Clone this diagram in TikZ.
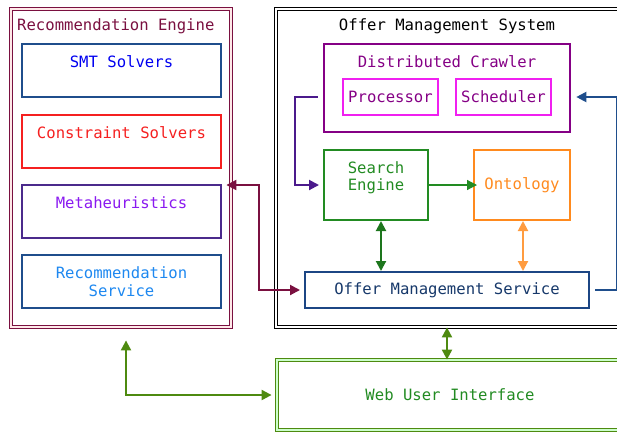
\documentclass[tikz,border=0pt]{standalone}
\usepackage{fontspec}
\setmonofont{DejaVu Sans Mono}
\usepackage{xcolor}
\usepackage{tikz}
\usetikzlibrary{arrows.meta, positioning, calc}
\definecolor{remaroon}{HTML}{7A1040}
\definecolor{smtblue}{HTML}{0000F0}
\definecolor{boxnavy}{HTML}{1F4E8C}
\definecolor{cstred}{HTML}{F52020}
\definecolor{metaind}{HTML}{4B2A8C}
\definecolor{metavio}{HTML}{8A1AF0}
\definecolor{recsky}{HTML}{1E88F0}
\definecolor{crawlpur}{HTML}{850085}
\definecolor{procmag}{HTML}{F020F0}
\definecolor{searchgr}{HTML}{228B22}
\definecolor{ontoor}{HTML}{FF8A1E}
\definecolor{omsnavy}{HTML}{1C4684}
\definecolor{webgr}{HTML}{4E8A10}
\definecolor{crawlarr}{HTML}{4B1A8C}

\begin{document}
\begin{tikzpicture}[
  x=1pt, y=-1pt,
  every node/.style={font=\ttfamily\fontsize{15.6}{17.5}\selectfont},
  blk/.style ={draw, rectangle, line width=1.2pt, align=center, inner sep=0pt},
  sysbox/.style={draw, rectangle, line width=0.8pt, double distance=1.6pt},
  tit/.style={inner sep=0pt},
  arr/.style={{Triangle[length=10pt,width=10pt]}-{Triangle[length=10pt,width=10pt]}, line width=2pt},
  onearr/.style={-{Triangle[length=10pt,width=10pt]}, line width=2pt}
]
\useasboundingbox (0,0) rectangle (617,432);

%% ─── Recommendation Engine ─────────────────────────────────────────────────
\node[sysbox, draw=remaroon, double=pink!35, minimum width=220pt, minimum height=318pt]
      (recsys) at (121,168) {};
\node[tit, anchor=west, text=remaroon] (rec_t) at (17,26) {Recommendation Engine};

\node[blk, draw=boxnavy,  text=smtblue, minimum width=199pt, minimum height=53pt]
      (smt)  at (121.5, 70.5) {SMT Solvers\\~};
\node[blk, draw=cstred,   text=cstred,  minimum width=199pt, minimum height=53pt]
      (cst)  at (121.5,141.5) {Constraint Solvers\\~};
\node[blk, draw=metaind,  text=metavio, minimum width=199pt, minimum height=53pt]
      (meta) at (121.5,211.5) {Metaheuristics\\~};
\node[blk, draw=boxnavy,  text=recsky,  minimum width=199pt, minimum height=53pt]
      (recsv) at (121.5,281.5) {Recommendation\\Service};

%% ─── Offer Management System ───────────────────────────────────────────────
\node[sysbox, draw=black, double=white, minimum width=354pt, minimum height=318pt]
      (omsys) at (453,168) {};
\node[tit] (oms_t) at (447,26) {Offer Management System};

\node[blk, draw=crawlpur, line width=2.6pt, minimum width=246pt, minimum height=88pt]
      (crawler) at (447,88) {};
\node[tit, text=crawlpur] (crawl_t) at (447,62) {Distributed Crawler};
\node[blk, draw=procmag, text=crawlpur, line width=1.2pt, minimum width=95pt, minimum height=36pt]
      (proc)  at (390.5,97) {Processor};
\node[blk, draw=procmag, text=crawlpur, line width=1.2pt, minimum width=95pt, minimum height=36pt]
      (sched) at (503.5,97) {Scheduler};

\node[blk, draw=searchgr, text=searchgr, line width=2pt, minimum width=104pt, minimum height=70pt]
      (search) at (376,185) {Search\\Engine\\~};
\node[blk, draw=ontoor, text=ontoor, line width=2pt, minimum width=96pt, minimum height=70pt]
      (onto) at (522,185) {Ontology};
\node[blk, draw=omsnavy, text=omsnavy!80!black, line width=2pt, minimum width=284pt, minimum height=36pt]
      (oms) at (447,290) {Offer Management Service};

%% ─── Web User Interface ────────────────────────────────────────────────────
\node[sysbox, draw=webgr, double=green!20, minimum width=353pt, minimum height=70pt]
      (webui) at (453.5,395) {};
\node[tit, text=searchgr] (web_t) at (450,395) {Web User Interface};

%% ─── connectors ────────────────────────────────────────────────────────────
\draw[onearr, draw=crawlarr]
     ([xshift=-5pt]crawler.west |- proc.west) -- ++(-23,0) |- ([xshift=-4pt]search.west);
\draw[onearr, draw=boxnavy]
     ([xshift=5pt]oms.east) -- ++(22,0) |- ([xshift=5pt]crawler.east |- sched.east);
\draw[onearr, line width=1.2pt, draw=searchgr] (search.east) -- ([xshift=4pt]onto.west);
\draw[arr, draw=searchgr!85!black] ([xshift=5pt]search.south) -- ([xshift=5pt]search.south |- oms.north);
\draw[arr, draw=ontoor!85] ([xshift=1pt]onto.south) -- ([xshift=1pt]onto.south |- oms.north);
\draw[arr, draw=remaroon]
     ([xshift=-5pt]recsys.east |- search.west) -- ++(33,0) |- ([xshift=-4pt]oms.west);
\draw[arr, draw=webgr] (oms.center |- omsys.south) -- (oms.center |- webui.north);
\draw[arr, draw=webgr, shorten <=13pt]
     ([xshift=5pt]recsys.south) |- ([xshift=-5pt]webui.west);

\end{tikzpicture}
\end{document}
